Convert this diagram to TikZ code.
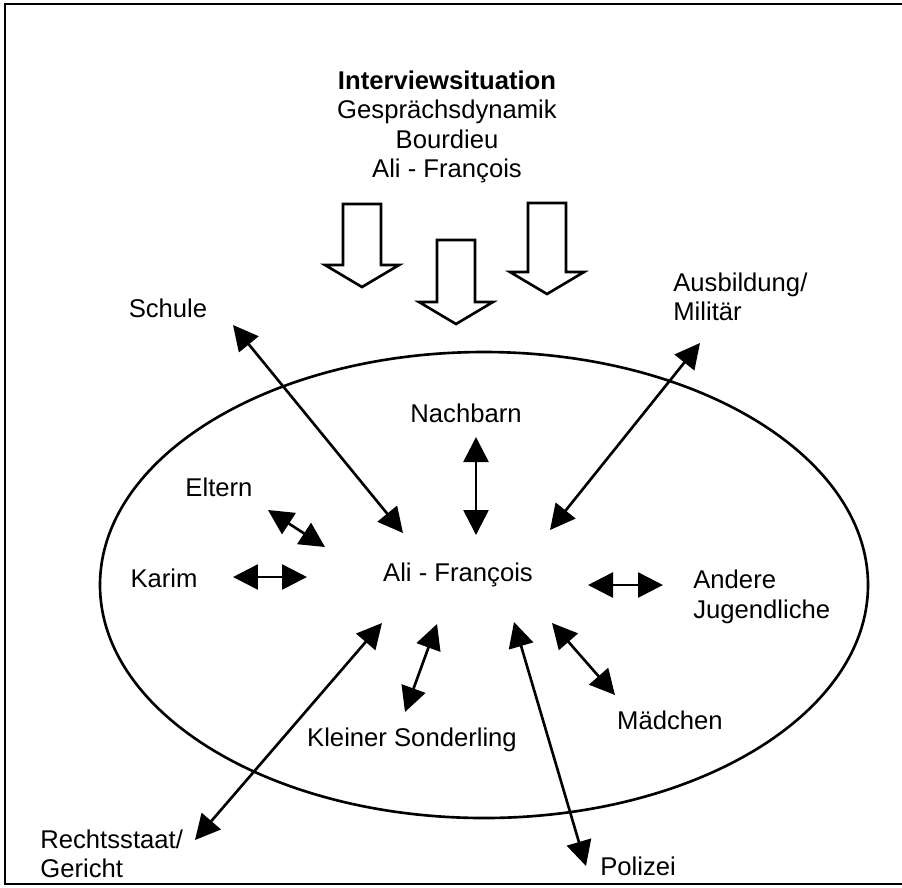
\documentclass[tikz,border=0pt]{standalone}
\usepackage{fontspec}
\setmainfont{Liberation Sans}
\usetikzlibrary{arrows.meta}
\tikzset{
  >={Triangle[length=5mm,width=5mm]},
  lbl/.style={font=\fontsize{14.6pt}{16.8pt}\selectfont,inner sep=0pt},
  rel/.style={<->,line width=1.5pt},
  outline/.style={line width=1.5pt},
}

\begin{document}
\begin{tikzpicture}[x=0.02cm,y=-0.02cm]
			\useasboundingbox (0,0) rectangle (902,887);
			\fill[white] (0,0) rectangle (902,887);
			\draw[outline] (930,4) -- (5,4) -- (5,884) -- (930,884);
			\node[lbl,align=center] (header) at (447,127) {\textbf{Interviewsituation}\\Gesprächsdynamik\\Bourdieu\\Ali - François};
			\foreach \bx/\by/\ey in {362/204/287, 456/240/324, 547/203/294}
				\draw[outline,fill=white] (\bx-19,\by) -- (\bx+19,\by) -- (\bx+19,\ey-22) -- (\bx+37,\ey-22) -- (\bx,\ey) -- (\bx-37,\ey-22) -- (\bx-19,\ey-22) -- cycle;
			\draw[outline] (484,585) ellipse [x radius=384, y radius=233];
			\node[lbl] (schule) at (168,308) {Schule};
			\node[lbl,align=left,anchor=west] (militaer) at (673,297) {Ausbildung/\\Militär};
			\node[lbl] (nachbarn) at (466,413) {Nachbarn};
			\node[lbl] (eltern) at (219,487) {Eltern};
			\node[lbl] (karim) at (164,578) {Karim};
			\node[lbl] (ali) at (458,575) {Ali - François};
			\node[lbl,align=left,anchor=west] (andere) at (693,597) {Andere\\Jugendliche};
			\node[lbl] (maedchen) at (670,720) {Mädchen};
			\node[lbl] (sonderling) at (412,740) {Kleiner Sonderling};
			\node[lbl,align=left,anchor=west] (gericht) at (40,854) {Rechtsstaat/\\Gericht};
			\node[lbl,anchor=west] (polizei) at (600,866) {Polizei};
			\coordinate (schule-e) at (233,325);   \coordinate (ali-schule) at (403,533);
			\coordinate (militaer-e) at (700,343); \coordinate (ali-militaer) at (550,530);
			\coordinate (nachbarn-e) at (476,437); \coordinate (ali-nachbarn) at (476,535);
			\coordinate (eltern-e) at (268,510);   \coordinate (ali-eltern) at (325,547);
			\coordinate (karim-e) at (233,577);    \coordinate (ali-karim) at (307,577);
			\coordinate (andere-e) at (663,585);   \coordinate (ali-andere) at (588,585);
			\coordinate (maedchen-e) at (615,695); \coordinate (ali-maedchen) at (552,623);
			\coordinate (polizei-e) at (586,866);  \coordinate (ali-polizei) at (514,622);
			\coordinate (gericht-e) at (195,840);  \coordinate (ali-gericht) at (382,623);
			\coordinate (sonderling-e) at (405,712); \coordinate (ali-sonderling) at (437,624);
			\foreach \n in {schule,militaer,nachbarn,eltern,karim,andere,maedchen,polizei,gericht,sonderling}
				\draw[rel] (\n-e) -- (ali-\n);
		\end{tikzpicture}
\end{document}
